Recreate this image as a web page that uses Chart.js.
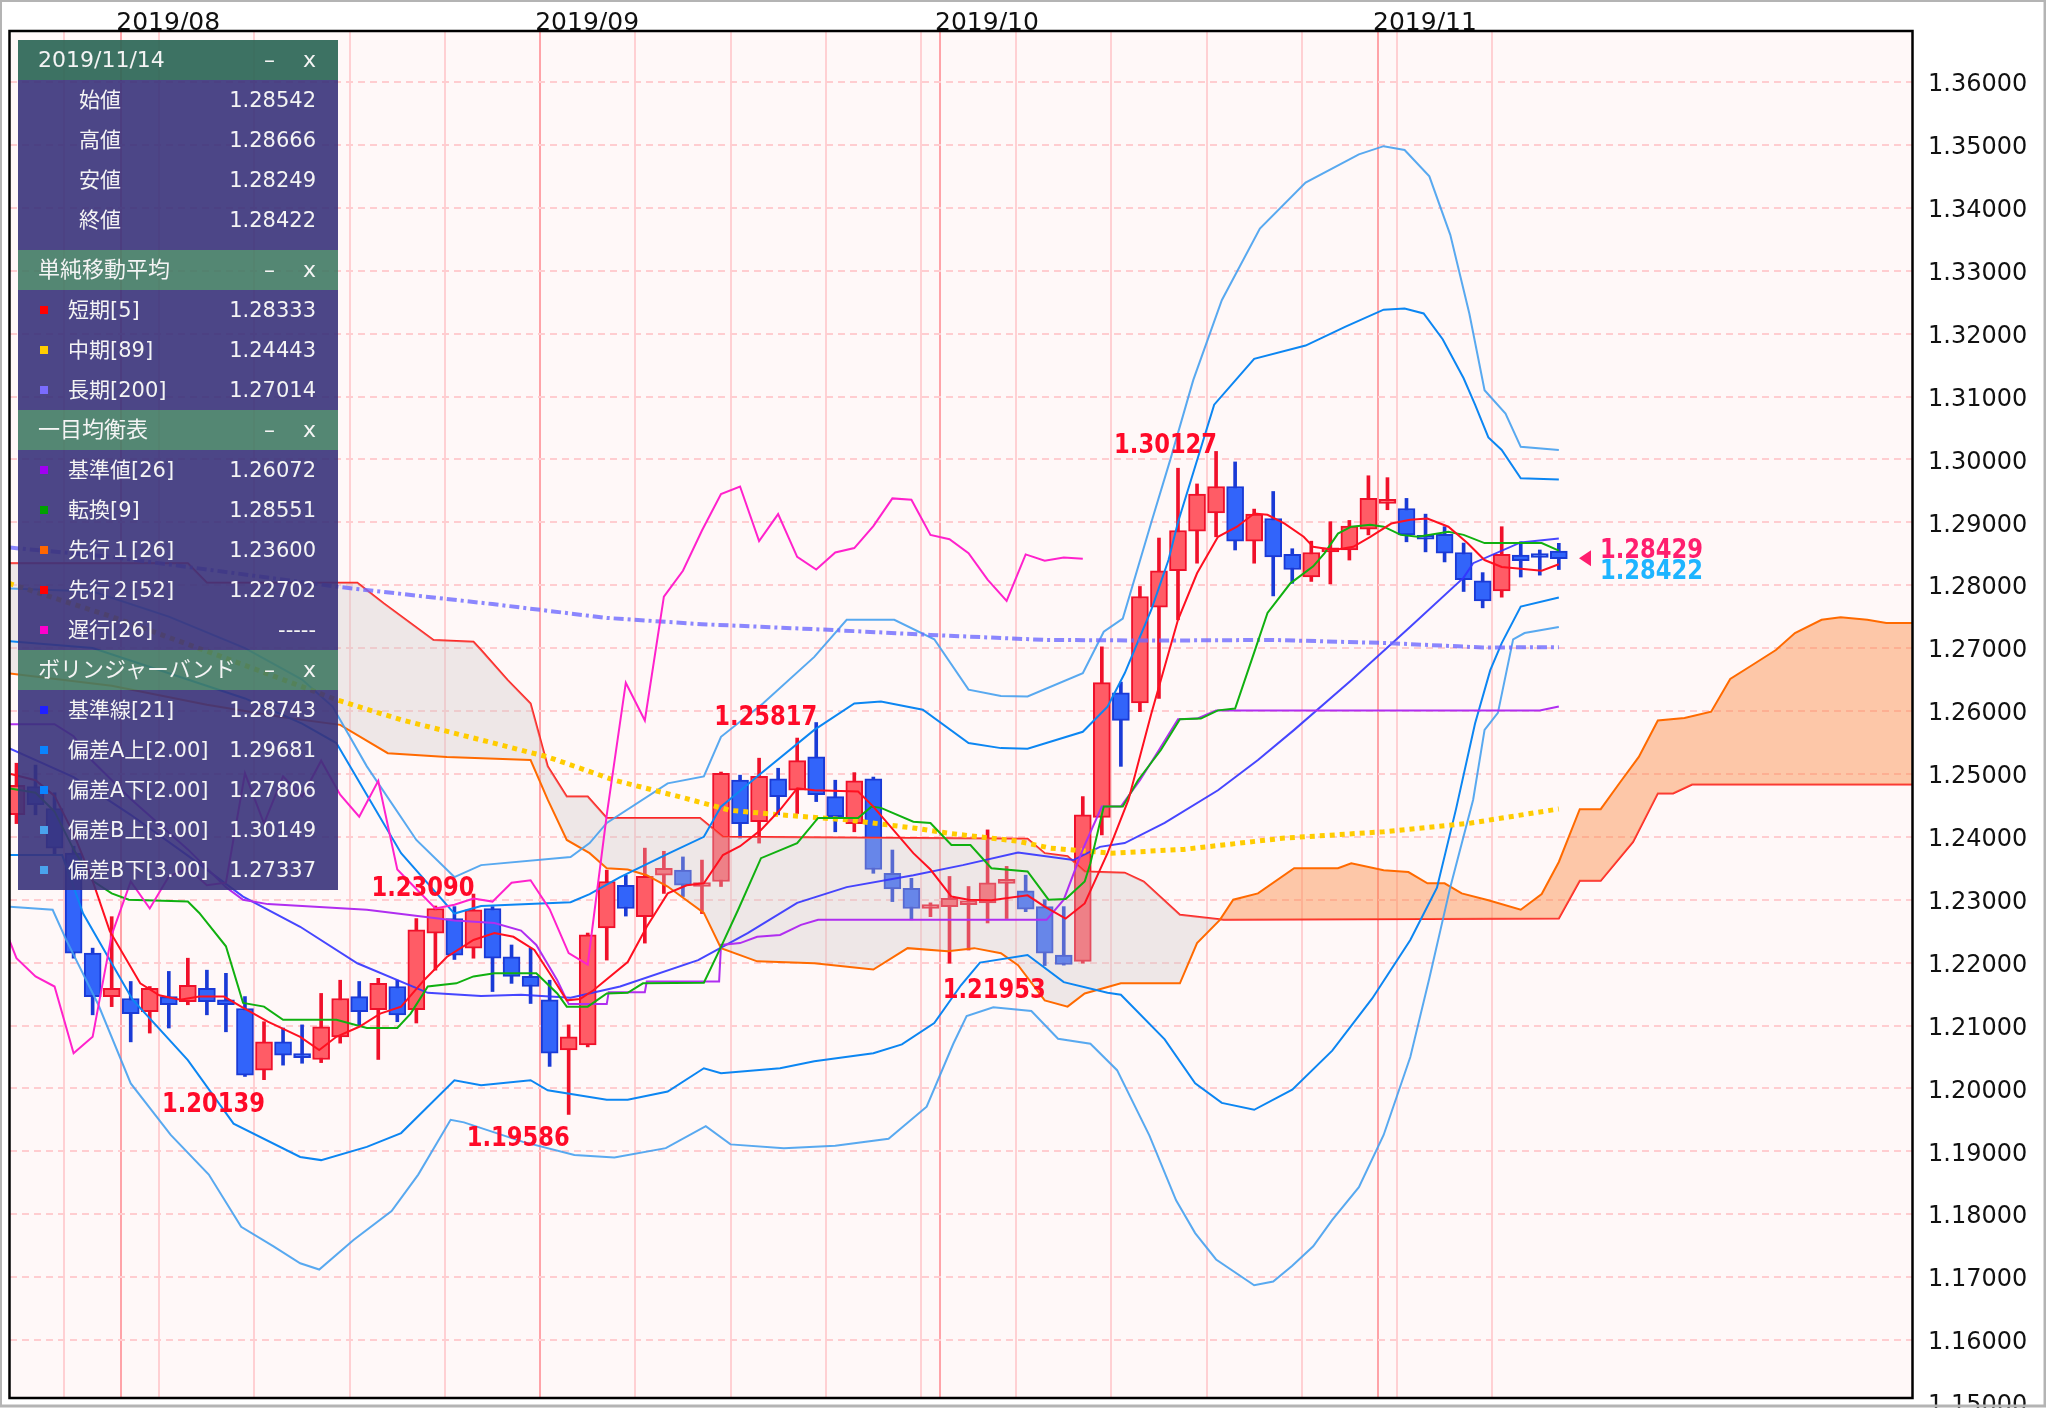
<!DOCTYPE html>
<html lang="ja">
<head>
<meta charset="utf-8">
<title>GBP/USD 日足</title>
<script src="https://cdn.jsdelivr.net/npm/chart.js@4.4.1/dist/chart.umd.min.js"></script>
<style>
html, body { margin: 0; padding: 0; background: #fff; }
#wrap { position: relative; width: 2046px; height: 1408px; overflow: hidden; }
canvas { display: block; }
#info { position: absolute; left: 18px; top: 40px; width: 320px; color: #f4f4f4; }
.hd { display: flex; align-items: baseline; height: 40px; padding-left: 20px; box-sizing: border-box;
  font: 22px/40px "DejaVu Sans", "Noto Sans CJK JP", sans-serif; background: rgba(65, 122, 100, 0.9); }
.hd.first { background: rgba(45, 102, 86, 0.92); }
.hd .t { width: 226px; white-space: nowrap; }
.hd .m { width: 39px; }
.blk { background: rgba(56, 50, 122, 0.9); }
.blk.first { padding-bottom: 10px; }
.row { position: relative; display: flex; align-items: baseline; height: 40px; box-sizing: border-box;
  padding-left: 50px; padding-right: 22px; font: 21px/40px "DejaVu Sans", "Noto Sans CJK JP", sans-serif; }
.row.plain { padding-left: 61px; }
.row .k { position: absolute; left: 22px; top: 16px; width: 8px; height: 8px; }
.row .v { margin-left: auto; }
</style>
</head>
<body>
<div id="wrap">
  <canvas id="chart" width="2046" height="1408"></canvas>
  <div id="info"></div>
</div>
<script>
'use strict';

// trading days, 2019
const days = ['07/24', '07/25', '07/26', '07/29', '07/30', '07/31',
  '08/01', '08/02', '08/05', '08/06', '08/07', '08/08', '08/09', '08/12', '08/13', '08/14', '08/15', '08/16',
  '08/19', '08/20', '08/21', '08/22', '08/23', '08/26', '08/27', '08/28', '08/29', '08/30',
  '09/02', '09/03', '09/04', '09/05', '09/06', '09/09', '09/10', '09/11', '09/12', '09/13', '09/16', '09/17',
  '09/18', '09/19', '09/20', '09/23', '09/24', '09/25', '09/26', '09/27', '09/30',
  '10/01', '10/02', '10/03', '10/04', '10/07', '10/08', '10/09', '10/10', '10/11', '10/14', '10/15', '10/16',
  '10/17', '10/18', '10/21', '10/22', '10/23', '10/24', '10/25', '10/28', '10/29', '10/30', '10/31',
  '11/01', '11/04', '11/05', '11/06', '11/07', '11/08', '11/11', '11/12', '11/13', '11/14'];

const open = [1.2435, 1.2480, 1.2445, 1.2374, 1.2215, 1.2146, 1.2143, 1.2122, 1.2146, 1.2138,
  1.2159, 1.2141, 1.2127, 1.2029, 1.2074, 1.2053, 1.2046, 1.2082, 1.2146, 1.2125,
  1.2162, 1.2125, 1.2247, 1.2270, 1.2223, 1.2286, 1.2209, 1.2178, 1.2141, 1.2061,
  1.2069, 1.2255, 1.2323, 1.2273, 1.2339, 1.2347, 1.2321, 1.2329, 1.2490, 1.2424,
  1.2492, 1.2474, 1.2527, 1.2464, 1.2421, 1.2492, 1.2342, 1.2318, 1.2286, 1.2289,
  1.2292, 1.2295, 1.2326, 1.2314, 1.2289, 1.2212, 1.2202, 1.2431, 1.2629, 1.2613,
  1.2765, 1.2823, 1.2886, 1.2915, 1.2957, 1.2870, 1.2906, 1.2849, 1.2813, 1.2853,
  1.2856, 1.2889, 1.2930, 1.2922, 1.2877, 1.2881, 1.2852, 1.2807, 1.2791, 1.2848,
  1.2849, 1.28542];
const high = [1.2517, 1.2514, 1.2470, 1.2385, 1.2223, 1.2273, 1.2170, 1.2162, 1.2186, 1.2207,
  1.2188, 1.2183, 1.2146, 1.2106, 1.2096, 1.2101, 1.2151, 1.2172, 1.2170, 1.2175,
  1.2172, 1.2270, 1.2290, 1.2289, 1.2309, 1.2289, 1.2228, 1.2223, 1.2172, 1.2101,
  1.2247, 1.2347, 1.2339, 1.2382, 1.2377, 1.2368, 1.2363, 1.2503, 1.2498, 1.2525,
  1.2509, 1.2557, 1.25817, 1.2490, 1.2502, 1.2495, 1.2379, 1.2334, 1.2295, 1.2337,
  1.2321, 1.2411, 1.2353, 1.2339, 1.2300, 1.2289, 1.2464, 1.2702, 1.2646, 1.2798,
  1.2875, 1.2986, 1.2961, 1.30127, 1.2996, 1.2921, 1.2949, 1.2858, 1.2870, 1.2901,
  1.2903, 1.2974, 1.2971, 1.2938, 1.2913, 1.2893, 1.2867, 1.2820, 1.2893, 1.2869,
  1.2856, 1.28666];
const low = [1.2421, 1.2435, 1.2371, 1.2207, 1.2117, 1.2130, 1.2074, 1.2088, 1.2096, 1.2133,
  1.2117, 1.2090, 1.2019, 1.20139, 1.2037, 1.2040, 1.2041, 1.2072, 1.2101, 1.2046,
  1.2106, 1.2104, 1.2188, 1.2205, 1.2207, 1.2154, 1.2167, 1.2135, 1.2035, 1.19586,
  1.2066, 1.2204, 1.2274, 1.2231, 1.2310, 1.2305, 1.2278, 1.2321, 1.2398, 1.2390,
  1.2435, 1.2437, 1.2456, 1.2408, 1.2408, 1.2342, 1.2297, 1.2268, 1.2273, 1.2199,
  1.2220, 1.2263, 1.2270, 1.2281, 1.21953, 1.2196, 1.2199, 1.2403, 1.2512, 1.2599,
  1.2620, 1.2745, 1.2835, 1.2877, 1.2856, 1.2835, 1.2783, 1.2803, 1.2806, 1.2802,
  1.2840, 1.2880, 1.2920, 1.2869, 1.2853, 1.2837, 1.2790, 1.2764, 1.2781, 1.2813,
  1.2816, 1.28249];
const close = [1.2482, 1.2451, 1.2382, 1.2215, 1.2146, 1.2159, 1.2119, 1.2159, 1.2133, 1.2164,
  1.2138, 1.2133, 1.2021, 1.2074, 1.2053, 1.2049, 1.2098, 1.2143, 1.2122, 1.2167,
  1.2117, 1.2252, 1.2286, 1.2212, 1.2284, 1.2207, 1.2178, 1.2162, 1.2056, 1.2082,
  1.2244, 1.2329, 1.2286, 1.2337, 1.2350, 1.2323, 1.2327, 1.2501, 1.2421, 1.2496,
  1.2464, 1.2521, 1.2467, 1.2432, 1.2489, 1.2348, 1.2317, 1.2286, 1.2292, 1.2302,
  1.2297, 1.2327, 1.2331, 1.2285, 1.2215, 1.2197, 1.2435, 1.2645, 1.2585, 1.2782,
  1.2823, 1.2887, 1.2945, 1.2957, 1.2870, 1.2913, 1.2845, 1.2825, 1.2852, 1.2859,
  1.2894, 1.2938, 1.2936, 1.2880, 1.2873, 1.2851, 1.2809, 1.2775, 1.2849, 1.2839,
  1.2844, 1.28422];

// 遅行スパン, starts one slot left of the first candle
const laggingStart = -1;
const lagging = [1.2284, 1.2207, 1.2178, 1.2162, 1.2056, 1.2082, 1.2244, 1.2329, 1.2286, 1.2337,
  1.2350, 1.2323, 1.2327, 1.2501, 1.2421, 1.2496, 1.2464, 1.2521, 1.2467, 1.2432,
  1.2489, 1.2348, 1.2317, 1.2286, 1.2292, 1.2302, 1.2297, 1.2327, 1.2331, 1.2285,
  1.2215, 1.2197, 1.2435, 1.2645, 1.2585, 1.2782, 1.2823, 1.2887, 1.2945, 1.2957,
  1.2870, 1.2913, 1.2845, 1.2825, 1.2852, 1.2859, 1.2894, 1.2938, 1.2936, 1.2880,
  1.2873, 1.2851, 1.2809, 1.2775, 1.2849, 1.2839, 1.2844, 1.28422];

// line series as [slot, value] vertices
const sma5 = [[-0.3, 1.2500], [1, 1.2490], [2, 1.2465], [3, 1.2405], [4, 1.2330], [4.9, 1.2250], [6.5, 1.2167],
  [7.5, 1.2148], [8.6, 1.2141], [9.6, 1.2146], [10.9, 1.2146], [11.8, 1.2130], [13.2, 1.2106], [14.9, 1.2082],
  [15.9, 1.2061], [16.8, 1.2082], [18, 1.2098], [19.1, 1.2119], [20.2, 1.2130], [21.4, 1.2172], [22.6, 1.2209],
  [24, 1.2236], [25.1, 1.2247], [26.1, 1.2241], [27.2, 1.2220], [28, 1.2183], [28.9, 1.2140], [29.6, 1.2142],
  [30.3, 1.2156], [32.1, 1.2201], [33.1, 1.2257], [34.2, 1.2310], [35.2, 1.2323], [36.1, 1.2326], [37.1, 1.2371],
  [38, 1.2385], [39.1, 1.2411], [40.1, 1.2443], [41, 1.2477], [41.9, 1.2474], [44.2, 1.2472], [45, 1.2448],
  [47.1, 1.2374], [48, 1.2348], [49.1, 1.2305], [50, 1.2300], [51.2, 1.2299], [53.1, 1.2307], [54, 1.2289],
  [55.1, 1.2270], [56.1, 1.2294], [57.3, 1.2374], [58.4, 1.2459], [59.6, 1.2596], [61, 1.2745], [62, 1.2819],
  [63.1, 1.2877], [64.1, 1.2893], [65, 1.2914], [65.7, 1.2912], [66.6, 1.2898], [67.6, 1.2877], [68.1, 1.2861],
  [69.2, 1.2856], [70.2, 1.2861], [71.1, 1.2877], [72.2, 1.2898], [73.2, 1.2904], [74.1, 1.2906], [75.2, 1.2893],
  [76.2, 1.2867], [77.1, 1.2840], [78, 1.2829], [79, 1.2826], [80.1, 1.2823], [81, 1.28333]];
const sma89 = [[-0.4, 1.2803], [5, 1.2750], [10, 1.2695], [14, 1.2650], [16.8, 1.2618], [20.2, 1.2586],
  [24.4, 1.2554], [27.9, 1.2527], [31.4, 1.2490], [34.9, 1.2463], [37.5, 1.2442], [40.1, 1.2435], [43.6, 1.2427],
  [47.1, 1.2414], [49.1, 1.2405], [52.6, 1.2393], [54.3, 1.2382], [57.5, 1.2374], [61.3, 1.2380], [66.6, 1.2398],
  [71.8, 1.2408], [76.4, 1.2422], [81, 1.24443]];
const sma200 = [[-0.4, 1.2860], [5, 1.2845], [10, 1.2825], [17, 1.2797], [25, 1.2770], [31, 1.2748], [36, 1.2738],
  [42, 1.2730], [48, 1.2721], [54, 1.2713], [60, 1.2712], [66, 1.2713], [72, 1.2708], [77, 1.2701], [81, 1.27014]];

const tenkan = [[-0.4, 1.2477], [1, 1.2470], [2, 1.2440], [3, 1.2380], [4, 1.2330], [5, 1.2310], [5.9, 1.2300],
  [9, 1.2297], [9.6, 1.2279], [11, 1.2226], [11.9, 1.2136], [13, 1.2130], [14, 1.2109], [16.8, 1.2109],
  [18.4, 1.2096], [20, 1.2096], [20.7, 1.2119], [21.6, 1.2162], [23.1, 1.2167], [24, 1.2178], [25.1, 1.2183],
  [27.3, 1.2183], [28.4, 1.2151], [28.9, 1.2130], [30, 1.2130], [31, 1.2151], [32.1, 1.2152], [32.9, 1.2167],
  [36.1, 1.2168], [37, 1.2225], [37.9, 1.2284], [39.1, 1.2366], [41, 1.2390], [42.1, 1.2430], [44.2, 1.2430],
  [44.9, 1.2448], [45.4, 1.2446], [47.1, 1.2424], [48, 1.2422], [49.1, 1.2387], [50.1, 1.2387], [51.2, 1.2350],
  [53.1, 1.2345], [54.2, 1.2300], [55.1, 1.2301], [56.1, 1.2329], [56.4, 1.2358], [57.1, 1.2448], [58.1, 1.2448],
  [58.9, 1.2490], [60.1, 1.2538], [61.1, 1.2587], [62.2, 1.2588], [63.1, 1.2601], [64, 1.2604], [65.1, 1.2702],
  [65.7, 1.2756], [66.9, 1.2803], [68.1, 1.2830], [68.7, 1.2851], [69.4, 1.2882], [70.1, 1.2893], [71.1, 1.2896],
  [71.8, 1.2893], [72.7, 1.2880], [73.6, 1.2877], [75.2, 1.2885], [76, 1.2880], [77.1, 1.2867], [80.1, 1.2867],
  [81, 1.28551]];
const kijun = [[-0.4, 1.2579], [2, 1.2579], [3, 1.2560], [4, 1.2520], [6, 1.2460], [9, 1.2380], [11, 1.2320],
  [11.9, 1.2300], [13.2, 1.2293], [18.4, 1.2284], [23, 1.2267], [25.1, 1.2263], [26.5, 1.2251], [27.3, 1.2228],
  [28.4, 1.2172], [29, 1.2134], [31, 1.2134], [31.1, 1.2153], [33, 1.2153], [33.1, 1.2170], [36.9, 1.2170],
  [37, 1.2228], [38, 1.2231], [38.9, 1.2241], [40.1, 1.2244], [41.2, 1.2260], [42.1, 1.2268], [54.1, 1.2268],
  [55, 1.2300], [56, 1.2380], [57, 1.2448], [58, 1.2448], [59, 1.2490], [60, 1.2538], [61, 1.2587], [62, 1.2588],
  [63, 1.2601], [80, 1.2601], [81, 1.26072]];
const senkouA = [[-0.4, 1.2660], [5, 1.2640], [10, 1.2610], [14, 1.2590], [17, 1.2578], [19.5, 1.2533],
  [22.6, 1.2527], [27, 1.2522], [27.9, 1.2459], [28.9, 1.2395], [30.1, 1.2374], [31, 1.2350], [32.1, 1.2348],
  [33.1, 1.2339], [34.2, 1.2321], [36.1, 1.2279], [37, 1.2223], [38.9, 1.2202], [41.9, 1.2199], [45, 1.2189],
  [46.8, 1.2223], [48.9, 1.2218], [50.3, 1.2223], [51.7, 1.2215], [52.6, 1.2196], [54, 1.2140], [55.2, 1.2130],
  [56.1, 1.2151], [58, 1.2167], [61.1, 1.2167], [62, 1.2231], [63.2, 1.2268], [63.9, 1.2300], [65.2, 1.2310],
  [67.1, 1.2350], [69.4, 1.2350], [70.1, 1.2358], [71.8, 1.2347], [73.1, 1.2344], [74.1, 1.2326], [75, 1.2326],
  [75.9, 1.2310], [77.3, 1.2299], [79, 1.2284], [80.1, 1.2309], [81, 1.2360], [82.1, 1.2444], [83.2, 1.2444],
  [84.2, 1.2486], [85.2, 1.2527], [86.2, 1.2585], [87.6, 1.2589], [89, 1.2599], [90, 1.2651], [91.1, 1.2672],
  [92.4, 1.2697], [93.4, 1.2724], [94.8, 1.2745], [95.8, 1.2749], [97.2, 1.2745], [98.2, 1.2740], [99.7, 1.2740]];
const senkouB = [[-0.4, 1.2835], [9, 1.2835], [10, 1.2804], [17.9, 1.2804], [19.3, 1.2771], [21.9, 1.2713],
  [24, 1.2710], [24.4, 1.2697], [25.8, 1.2649], [27, 1.2612], [27.9, 1.2512], [28.9, 1.2464], [30, 1.2464],
  [31, 1.2430], [35.9, 1.2430], [37.1, 1.2400], [53.1, 1.2397], [54, 1.2374], [55.2, 1.2369], [56.1, 1.2345],
  [58.2, 1.2343], [59.2, 1.2329], [61.1, 1.2276], [63.4, 1.2268], [81, 1.22702], [82.1, 1.2330], [83.2, 1.2330],
  [84.9, 1.2392], [86.2, 1.2469], [87, 1.2469], [88, 1.2483], [99.7, 1.2483]];

const bbMid = [[-0.4, 1.2541], [3, 1.2495], [6, 1.2435], [9, 1.2370], [11.9, 1.2305], [14.9, 1.2257],
  [17.9, 1.2199], [21.6, 1.2152], [24.4, 1.2147], [26.5, 1.2149], [29.1, 1.2144], [31.7, 1.2162], [35.8, 1.2204],
  [38.4, 1.2247], [41, 1.2295], [43.6, 1.2320], [47.1, 1.2339], [49.7, 1.2355], [52.6, 1.2375], [55.5, 1.2363],
  [56.9, 1.2384], [58.2, 1.2390], [60.3, 1.2422], [63.1, 1.2474], [65.2, 1.2522], [67.1, 1.2570], [70.1, 1.2649],
  [73.2, 1.2734], [76, 1.2812], [76.5, 1.2835], [79, 1.2868], [81, 1.28743]];
const bbUpA = [[-0.4, 1.2711], [4, 1.2700], [8, 1.2660], [12, 1.2620], [15, 1.2580], [16.8, 1.2549],
  [20.2, 1.2374], [23, 1.2278], [24.4, 1.2290], [29.1, 1.2296], [30.1, 1.2309], [31.7, 1.2336], [34.2, 1.2373],
  [36.1, 1.2400], [37, 1.2448], [38.9, 1.2496], [41.9, 1.2570], [44, 1.2612], [45.4, 1.2615], [47.6, 1.2602],
  [50, 1.2549], [51.7, 1.2541], [53.1, 1.2540], [56, 1.2567], [57.3, 1.2607], [58.2, 1.2660], [59.6, 1.2761],
  [60.5, 1.2840], [61, 1.2900], [62.9, 1.3087], [65, 1.3160], [67.7, 1.3181], [69.8, 1.3211], [71.8, 1.3238],
  [72.9, 1.3240], [73.9, 1.3232], [74.9, 1.3191], [76, 1.3129], [76.6, 1.3087], [77.3, 1.3035], [78, 1.3015],
  [79, 1.2970], [81, 1.29681]];
const bbLoA = [[-0.4, 1.2371], [2.4, 1.2371], [3.5, 1.2278], [6.1, 1.2141], [9, 1.2045], [11.4, 1.1944],
  [14.9, 1.1891], [16, 1.1886], [18.4, 1.1907], [20.2, 1.1929], [23, 1.2013], [24.4, 1.2005], [27, 1.2013],
  [27.9, 1.1997], [31, 1.1982], [32.1, 1.1982], [34.2, 1.1995], [36.1, 1.2032], [37, 1.2024], [40.1, 1.2032],
  [41.9, 1.2043], [45, 1.2056], [46.5, 1.2070], [48.2, 1.2104], [49.6, 1.2164], [50.6, 1.2200], [53.1, 1.2212],
  [55, 1.2169], [57.3, 1.2152], [58, 1.2149], [60.3, 1.2078], [61.9, 1.2008], [63.3, 1.1977], [65, 1.1966],
  [67, 1.1998], [69.1, 1.2060], [71.2, 1.2143], [73.2, 1.2236], [74.6, 1.2319], [75.6, 1.2444], [76.6, 1.2580],
  [77.4, 1.2665], [78, 1.2708], [79, 1.2766], [81, 1.27806]];
const bbUpB = [[-0.4, 1.2795], [4, 1.2790], [8, 1.2750], [12, 1.2700], [15, 1.2650], [16.6, 1.2607],
  [18.4, 1.2512], [21, 1.2395], [23, 1.2336], [24.4, 1.2355], [29.1, 1.2368], [30.1, 1.2390], [31, 1.2422],
  [34.2, 1.2485], [36.1, 1.2496], [37, 1.2559], [39.2, 1.2612], [41.9, 1.2686], [43.6, 1.2745], [46.1, 1.2745],
  [48.2, 1.2714], [50, 1.2634], [51.7, 1.2624], [53.1, 1.2623], [56, 1.2660], [57.1, 1.2726], [58.1, 1.2747],
  [59.6, 1.2900], [60.6, 1.3000], [61.8, 1.3126], [63.3, 1.3253], [65.3, 1.3367], [67.7, 1.3440], [70.5, 1.3485],
  [71.8, 1.3498], [72.9, 1.3492], [74.2, 1.3450], [75.3, 1.3357], [76.3, 1.3232], [77.1, 1.3110], [78.2, 1.3073],
  [79, 1.3020], [81, 1.30149]];
const bbLoB = [[-0.4, 1.2289], [1.9, 1.2284], [2.6, 1.2237], [4.3, 1.2133], [6, 1.2008], [8.1, 1.1926],
  [10.1, 1.1863], [11.8, 1.1780], [13.5, 1.1749], [14.9, 1.1722], [15.9, 1.1712], [17.7, 1.1759], [19.7, 1.1805],
  [21.1, 1.1863], [22.8, 1.1950], [23.5, 1.1946], [26.6, 1.1915], [29.3, 1.1894], [31.4, 1.1890], [34.1, 1.1905],
  [36.2, 1.1940], [37.5, 1.1911], [40.3, 1.1905], [43, 1.1909], [45.8, 1.1920], [47.8, 1.1971], [49.2, 1.2071],
  [49.9, 1.2115], [51.3, 1.2129], [53.3, 1.2123], [54.7, 1.2079], [56.4, 1.2071], [57.8, 1.2029], [59.5, 1.1925],
  [60.9, 1.1822], [61.9, 1.1770], [63, 1.1728], [65, 1.1687], [66, 1.1693], [67, 1.1718], [68.1, 1.1749],
  [69.1, 1.1791], [70.5, 1.1843], [71.8, 1.1926], [73.2, 1.2050], [74.2, 1.2175], [75.3, 1.2320], [76.5, 1.2459],
  [77.1, 1.2570], [77.8, 1.2597], [78.6, 1.2714], [79.2, 1.2724], [81, 1.27337]];

const yTicks = [1.15, 1.16, 1.17, 1.18, 1.19, 1.20, 1.21, 1.22, 1.23, 1.24, 1.25,
  1.26, 1.27, 1.28, 1.29, 1.30, 1.31, 1.32, 1.33, 1.34, 1.35, 1.36];

// marked highs / lows: [slot, 'high' | 'low']
const extremes = [[13, 'low'], [24, 'high'], [29, 'low'], [42, 'high'], [54, 'low'], [63, 'high']];
const lastBid = 1.28429;

const panels = [
  { title: '2019/11/14', first: true, rows: [
    ['始値', null, open[81].toFixed(5)], ['高値', null, high[81].toFixed(5)],
    ['安値', null, low[81].toFixed(5)], ['終値', null, close[81].toFixed(5)]] },
  { title: '単純移動平均', rows: [
    ['短期[5]', '#ff0000', '1.28333'], ['中期[89]', '#ffcc00', '1.24443'], ['長期[200]', '#7a6cff', '1.27014']] },
  { title: '一目均衡表', rows: [
    ['基準値[26]', '#a100f2', '1.26072'], ['転換[9]', '#00a000', '1.28551'], ['先行１[26]', '#ff6600', '1.23600'],
    ['先行２[52]', '#ff0000', '1.22702'], ['遅行[26]', '#ff00cc', '-----']] },
  { title: 'ボリンジャーバンド', rows: [
    ['基準線[21]', '#2020ff', '1.28743'], ['偏差A上[2.00]', '#0a84ff', '1.29681'], ['偏差A下[2.00]', '#0a84ff', '1.27806'],
    ['偏差B上[3.00]', '#4aa3ee', '1.30149'], ['偏差B下[3.00]', '#4aa3ee', '1.27337']] },
];

// info box
let html = '';
for (const p of panels) {
  html += '<div class="hd' + (p.first ? ' first' : '') + '"><span class="t">' + p.title +
    '</span><span class="m">–</span><span>x</span></div>';
  html += '<div class="blk' + (p.first ? ' first' : '') + '">';
  for (const r of p.rows) {
    html += '<div class="row' + (r[1] ? '' : ' plain') + '">' +
      (r[1] ? '<span class="k" style="background:' + r[1] + '"></span>' : '') +
      '<span class="n">' + r[0] + '</span><span class="v">' + r[2] + '</span></div>';
  }
  html += '</div>';
}
document.getElementById('info').innerHTML = html;

// vertical grid: Mondays and first day of each month
const gridTicks = [];
days.forEach((d, i) => {
  const m = Number(d.slice(0, 2));
  const dd = Number(d.slice(3));
  const monthStart = i > 0 && m !== Number(days[i - 1].slice(0, 2));
  const monday = new Date(2019, m - 1, dd).getDay() === 1;
  if (monthStart || monday) {
    gridTicks.push({ value: i - 0.5, label: monthStart ? '2019/' + d.slice(0, 2) : '' });
  }
});
function tickLabel(v) {
  const t = gridTicks.find(g => Math.abs(g.value - v) < 0.01);
  return t ? t.label : '';
}

const pts = arr => arr.map(p => ({ x: p[0], y: p[1] }));
const up = [], down = [];
open.forEach((o, i) => (close[i] >= o ? up : down).push(i));

function lineSet(label, data, color, width, order, extra) {
  return Object.assign({
    type: 'line', label, data: pts(data), borderColor: color, borderWidth: width,
    pointRadius: 0, tension: 0, fill: false, order
  }, extra || {});
}

const datasets = [
  { type: 'bar', label: 'wickUp', data: up.map(i => ({ x: i, y: [low[i], high[i]] })),
    backgroundColor: '#f0102a', barThickness: 3, grouped: false, order: 51 },
  { type: 'bar', label: 'wickDown', data: down.map(i => ({ x: i, y: [low[i], high[i]] })),
    backgroundColor: '#1a3ad6', barThickness: 3, grouped: false, order: 51 },
  { type: 'bar', label: 'bodyUp', data: up.map(i => ({ x: i, y: [open[i], close[i]] })),
    backgroundColor: '#ff5c66', borderColor: '#f0102a', borderWidth: 2, borderSkipped: false,
    barThickness: 17, minBarLength: 4, grouped: false, order: 50 },
  { type: 'bar', label: 'bodyDown', data: down.map(i => ({ x: i, y: [close[i], open[i]] })),
    backgroundColor: '#3264fa', borderColor: '#1a3ad6', borderWidth: 2, borderSkipped: false,
    barThickness: 17, minBarLength: 4, grouped: false, order: 50 },
  lineSet('先行2', senkouB, '#ff2424', 2, 40),
  lineSet('先行1', senkouA, '#ff6a00', 2, 39,
    { fill: { target: 4, above: 'rgba(250, 140, 70, 0.45)', below: 'rgba(205, 200, 200, 0.34)' } }),
  lineSet('偏差B下', bbLoB, 'rgba(70, 160, 238, 0.9)', 2, 30),
  lineSet('偏差B上', bbUpB, 'rgba(70, 160, 238, 0.9)', 2, 30),
  lineSet('偏差A下', bbLoA, '#0c86f2', 2, 29),
  lineSet('偏差A上', bbUpA, '#0c86f2', 2, 29),
  lineSet('基準線', bbMid, 'rgba(50, 50, 255, 0.9)', 2, 28),
  lineSet('長期', sma200, 'rgba(110, 105, 255, 0.8)', 4, 27, { borderDash: [10, 4, 3, 4] }),
  lineSet('中期', sma89, '#ffcc00', 5, 26, { borderDash: [5, 5] }),
  lineSet('基準値', kijun, '#b02ef0', 2, 25),
  lineSet('転換', tenkan, '#10b010', 2, 24),
  lineSet('遅行', lagging.map((v, k) => [k + laggingStart, v]), '#ff22cc', 2, 23),
  lineSet('短期', sma5, '#ff1020', 2, 22),
];

function drawTag(ctx, text, right, baseline, color) {
  ctx.save();
  ctx.font = 'bold 26px "DejaVu Sans"';
  const w = ctx.measureText(text).width;
  ctx.translate(right, baseline);
  ctx.scale(103 / w, 1);
  ctx.textAlign = 'right';
  ctx.textBaseline = 'alphabetic';
  ctx.fillStyle = color;
  ctx.fillText(text, 0, 0);
  ctx.restore();
}

const decor = {
  id: 'decor',
  beforeDraw(chart) {
    const { ctx, chartArea: a } = chart;
    ctx.save();
    ctx.fillStyle = '#ffffff';
    ctx.fillRect(0, 0, chart.width, chart.height);
    ctx.fillStyle = '#fff8f8';
    ctx.fillRect(a.left, a.top, a.right - a.left, a.bottom - a.top);
    ctx.restore();
  },
  afterDatasetsDraw(chart) {
    const { ctx, scales } = chart;
    const xs = scales.x, ys = scales.y;
    for (const [i, kind] of extremes) {
      const v = kind === 'high' ? high[i] : low[i];
      const px = xs.getPixelForValue(i) + 1;
      const py = ys.getPixelForValue(v);
      drawTag(ctx, v.toFixed(5), px, kind === 'high' ? py + 2 : py + 32, '#ff0a28');
    }
    const by = ys.getPixelForValue(lastBid);
    ctx.save();
    ctx.fillStyle = '#ff1e6e';
    ctx.beginPath();
    ctx.moveTo(1579, by);
    ctx.lineTo(1591, by - 8);
    ctx.lineTo(1591, by + 8);
    ctx.closePath();
    ctx.fill();
    ctx.restore();
    drawTag(ctx, lastBid.toFixed(5), 1703, by, '#ff1e6e');
    drawTag(ctx, close[81].toFixed(5), 1703, by + 21, '#1eb4ff');
  },
  afterDraw(chart) {
    const { ctx, chartArea: a } = chart;
    ctx.save();
    ctx.strokeStyle = '#000';
    ctx.lineWidth = 2.5;
    ctx.strokeRect(a.left - 0.5, a.top, a.right - a.left, a.bottom - a.top);
    ctx.strokeStyle = '#b4b4b4';
    ctx.lineWidth = 3;
    ctx.strokeRect(0.5, 0.5, chart.width - 1.5, chart.height - 2.5);
    ctx.restore();
  }
};

new Chart(document.getElementById('chart'), {
  data: { datasets },
  plugins: [decor],
  options: {
    responsive: false,
    animation: false,
    devicePixelRatio: 1,
    layout: { padding: { left: 10, right: 0, top: 0, bottom: 10 } },
    plugins: { legend: { display: false }, tooltip: { enabled: false } },
    scales: {
      x: {
        type: 'linear', position: 'top', min: -0.34, max: 99.6, bounds: 'data', offset: false,
        afterBuildTicks: s => { s.ticks = gridTicks.map(t => ({ value: t.value })); },
        afterFit: s => { s.height = 31; s.paddingLeft = 0; s.paddingRight = 0; },
        grid: {
          offset: false,
          color: c => (c.tick && tickLabel(c.tick.value) ? '#ffa3a8' : '#ffd0d3'),
          lineWidth: 2, drawTicks: false
        },
        border: { display: false },
        ticks: {
          autoSkip: false, maxRotation: 0, padding: -4, labelOffset: 47, color: '#111',
          font: { family: 'DejaVu Sans', size: 25, lineHeight: 0.9 },
          callback: v => tickLabel(v)
        }
      },
      y: {
        type: 'linear', position: 'right', min: 1.15078, max: 1.36811, bounds: 'data', offset: false,
        afterBuildTicks: s => { s.ticks = yTicks.map(v => ({ value: v })); },
        afterFit: s => { s.width = 133; s.paddingTop = 0; s.paddingBottom = 0; },
        grid: {
          color: c => (c.tick && c.tick.value < 1.155 ? 'rgba(0,0,0,0)' : '#ffcdd0'),
          lineWidth: 2, drawTicks: false
        },
        border: { display: false, dash: [7, 5] },
        ticks: {
          autoSkip: false, padding: 15, labelOffset: 3, color: '#111',
          font: { family: 'DejaVu Sans', size: 24 },
          callback: v => Number(v).toFixed(5)
        }
      }
    }
  }
});
</script>
</body>
</html>
